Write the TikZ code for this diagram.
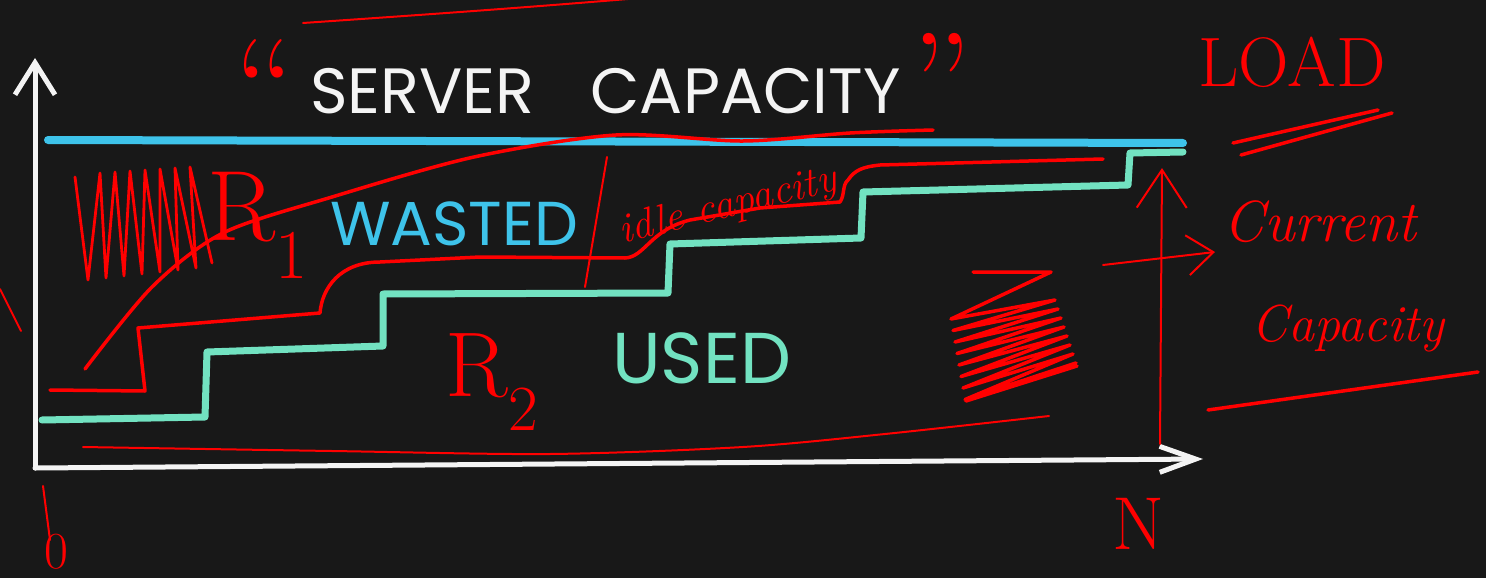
\documentclass[tikz,border=0pt]{standalone}
\usepackage{fontspec}
\newfontfamily\capsfont{Poppins}
\usetikzlibrary{arrows.meta, positioning}

\definecolor{boardbg}{HTML}{181818}
\definecolor{chalk}{HTML}{F4F4F4}
\definecolor{capblue}{HTML}{3EC3EA}
\definecolor{usedgreen}{HTML}{72E2C1}
\definecolor{pen}{HTML}{FF0000}

\begin{document}
\begin{tikzpicture}[
    x=1pt, y=-1pt,
    axis/.style     = {draw=chalk, line width=5pt, line cap=round, line join=round},
    capline/.style  = {draw=capblue, line width=8pt, line cap=round},
    stairs/.style   = {draw=usedgreen, line width=7pt, line cap=round, line join=round},
    penline/.style  = {draw=pen, line width=3.5pt, line cap=round, line join=round},
    penthin/.style  = {draw=pen, line width=2pt, line cap=round, line join=round},
    bigword/.style  = {inner sep=0pt, anchor=base west},
    handword/.style = {text=pen, inner sep=0pt},
]

%% ---- Board ----
\fill[boardbg] (0,0) rectangle (1486,578);
\useasboundingbox (0,0) rectangle (1486,578);

%% ---- Axes ----
\coordinate (origin) at (35,468);
\coordinate (ytip)   at (35,58);
\coordinate (xtip)   at (1203,459);
\draw[axis, -{Straight Barb[length=32pt, width=40pt]}] (origin) -- (ytip);
\draw[axis, -{Straight Barb[length=36pt, width=26pt]}] (origin) -- (xtip);

%% ---- Capacity line and used staircase ----
\draw[capline] (48,140) -- (1183,143);
\draw[stairs] (42,420) -- (205,417) -- (207,352) -- (383,346) -- (383,294)
    -- (668,293) -- (670,244) -- (861,238) -- (863,192) -- (1128,185)
    -- (1130,153) -- (1183,152);

%% ---- Board labels ----
\node[bigword, text=chalk, font=\capsfont\fontsize{64}{64}\selectfont] (title)
    at (310,113) {SERVER\hspace{56pt}CAPACITY};
\node[bigword, text=capblue, font=\capsfont\fontsize{62}{62}\selectfont] (wasted)
    at (330,245) {WASTED};
\node[bigword, text=usedgreen, font=\capsfont\fontsize{72}{72}\selectfont] (used)
    at (612,383) {USED};

%% ---- Red notes: text ----
\node[handword, font=\fontsize{140}{140}\selectfont] (openq)  at (265,88) {\textquotedblleft};
\node[handword, font=\fontsize{140}{140}\selectfont] (closeq) at (942,82) {\textquotedblright};
\node[handword, font=\fontsize{100}{100}\selectfont] (rone) at (258,225) {R\textsubscript{1}};
\node[handword, font=\fontsize{92}{92}\selectfont] (rtwo) at (492,382) {R\textsubscript{2}};
\node[handword, font=\itshape\fontsize{42}{42}\selectfont, rotate=14] (idle)
    at (728,207) {idle capacity};
\node[handword, font=\fontsize{70}{70}\selectfont] (load) at (1292,62) {LOAD};
\node[handword, font=\itshape\fontsize{58}{58}\selectfont] (current) at (1320,222) {Current};
\node[handword, font=\itshape\fontsize{52}{52}\selectfont] (capacity) at (1348,328) {Capacity};
\node[handword, font=\fontsize{75}{75}\selectfont] (nmax) at (1138,524) {N};
\node[handword, font=\fontsize{52}{52}\selectfont] (zero) at (56,552) {0};

%% ---- Red notes: load line ----
\draw[penline] (50,390) -- (145,391) -- (138,328) -- (320,313)
    .. controls (322,288) and (340,262) .. (380,262)
    -- (480,257) -- (625,258)
    .. controls (645,257) and (650,230) .. (690,220)
    -- (760,208) -- (840,202)
    .. controls (845,195) and (842,185) .. (848,180)
    .. controls (855,170) and (862,167) .. (880,165) -- (1103,159);

% sweep from the corner up to the capacity line
\draw[penline] plot[smooth] coordinates {(85,369) (152,287) (223,233) (332,197)
    (474,157) (616,135) (743,141) (850,133) (933,130)};

% loose strokes
\draw[penthin] (303,23) .. controls (420,15) and (520,8) .. (640,-2);
\draw[penthin] plot[smooth] coordinates {(83,447) (332,451) (550,454) (743,447)
    (885,434) (1049,416)};
\draw[penthin] (0,289) -- (21,331);
\draw[penthin] (585,287) -- (607,157);
\draw[penthin] (43,486) -- (50,540);

%% ---- Red notes: scribbles ----
\draw[penline, line width=2.8pt] (75,177) \foreach \k in {0,...,6}{
    -- ({88+18*\k},{280-2*\k}) -- ({100+15*\k},{173-\k}) } -- (212,263);
\draw[penline] (973,272) -- (1051,272) \foreach \k in {0,...,7}{
    -- ({951+2*\k},{319+11.5*\k}) -- ({1055+3*\k},{300+9*\k}) } -- (966,401) -- (1077,366);

%% ---- Red notes: arrows and underlines ----
\coordinate (curfoot) at (1160,444);
\coordinate (curtip)  at (1162,168);
\coordinate (curfrom) at (1103,265);
\coordinate (curto)   at (1215,252);
\draw[penthin, -{Straight Barb[length=38pt, width=50pt]}] (curfoot) -- (curtip);
\draw[penthin, -{Straight Barb[length=26pt, width=40pt]}] (curfrom) -- (curto);

\draw[penline] (1233,143) -- (1378,110);
\draw[penline] (1241,155) -- (1392,113);
\draw[penline] (1208,410) -- (1478,372);

\end{tikzpicture}
\end{document}
